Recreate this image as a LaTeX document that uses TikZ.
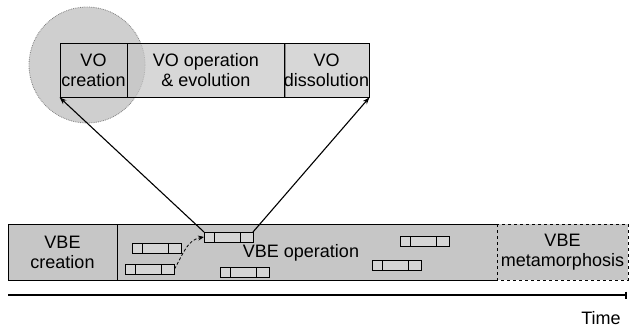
\documentclass[tikz,border=0pt]{standalone}
\usepackage{fontspec}
\setmainfont{Liberation Sans}
\usetikzlibrary{arrows.meta,positioning}
\definecolor{stipple}{HTML}{C6C6C6}
\definecolor{stipplelight}{HTML}{D6D6D6}
\definecolor{circlegray}{HTML}{CFCFCF}
% one small VO bar with its three phases
\newcommand{\vomini}[3]{%
  \node[mini] (#1) at (#2,#3) {};
  \draw ([xshift=10pt]#1.north west) -- ([xshift=10pt]#1.south west);
  \draw ([xshift=-13pt]#1.north east) -- ([xshift=-13pt]#1.south east);}

\begin{document}
\begin{tikzpicture}[x=1pt,y=-1pt,line width=0.8pt,
  every node/.style={font=\fontsize{18}{20}\selectfont},
  cell/.style={rectangle,draw=black,fill=stipple,align=center,minimum height=54pt,inner sep=0pt},
  mini/.style={rectangle,draw=black,fill=stipplelight,minimum width=49pt,minimum height=10pt,inner sep=0pt,outer sep=0pt},
  arr/.style={-{Stealth[length=7pt,width=5pt]},line width=1.1pt},
  axis/.style={-{Bar[width=7pt,line width=2pt]},line width=1.4pt}
]
\useasboundingbox (0,0) rectangle (629,330);
% zoom circle round VO creation
\fill[circlegray] (87,65) circle (58);
\draw[gray,densely dotted] (87,65) circle (58);
% VO life cycle
\node[cell,fill opacity=0.7,text opacity=1,minimum width=67pt] (vocreate) at (93.5,70) {VO\\creation};
\node[cell,fill opacity=0.7,text opacity=1,minimum width=158pt] (voop) at (206,70) {VO operation\\\& evolution};
\node[cell,fill opacity=0.7,text opacity=1,minimum width=83pt] (vodissolve) at (326.5,70) {VO\\dissolution};
% VBE life cycle
\node[cell,minimum width=109pt,minimum height=56pt] (vbecreate) at (62.5,252) {VBE\\creation};
\node[cell,draw=none,outer sep=0pt,minimum width=380pt,minimum height=56pt] (vbeop) at (307,252) {};
\node at (301,253) (vbeoplabel) {VBE operation};
\draw (vbeop.north east) -- (vbeop.north west) -- (vbeop.south west) -- (vbeop.south east);
\node[cell,draw=none,outer sep=0pt,minimum width=131pt,minimum height=56pt] (vbemeta) at (562.5,252) {VBE\\metamorphosis};
\draw[dashed] (vbemeta.north west) rectangle (vbemeta.south east);
% VOs inside the VBE
\vomini{vozoom}{228.5}{237}
\vomini{voa}{156.5}{248}
\vomini{vob}{150}{269}
\vomini{voc}{244.5}{272}
\vomini{vod}{424.5}{241.5}
\vomini{voe}{397}{265.5}
\draw[arr] (vozoom.north west) -- (vocreate.south west);
\draw[arr] (vozoom.north east) -- (vodissolve.south east);
\draw[densely dashed,-{Stealth[length=6pt,width=5pt]}] (vob.east) to[out=60,in=190] (vozoom.west);
% time axis
\coordinate (tstart) at (8,295);
\coordinate (tend) at (627,295);
\draw[axis] (tstart) -- (tend);
\node (time) at (601,318) {Time};
\end{tikzpicture}
\end{document}
